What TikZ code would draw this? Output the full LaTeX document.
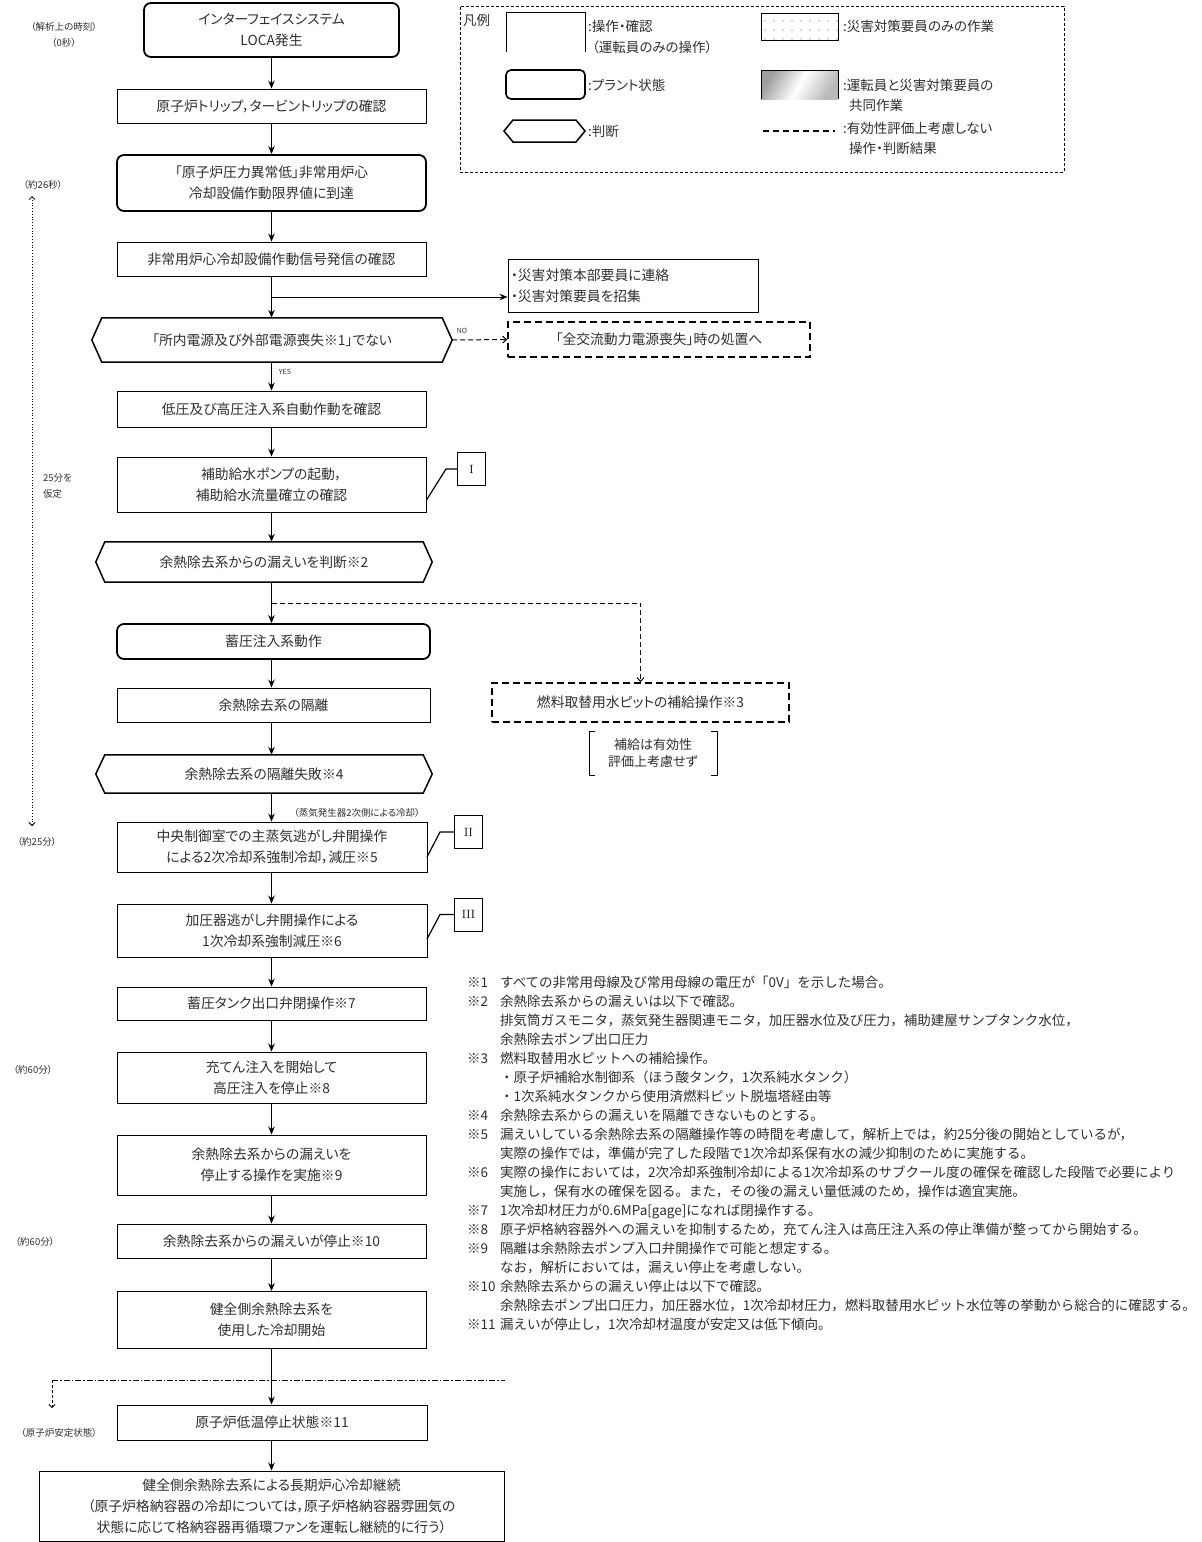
\documentclass[tikz,border=0pt]{standalone}
\usepackage{fontspec}
\setmainfont{Noto Sans CJK JP}[RawFeature={+palt}]
\newfontfamily\jpfull{Noto Sans CJK JP}
\newfontfamily\lmr{Latin Modern Roman}
\usetikzlibrary{arrows.meta,patterns.meta,calc}
\definecolor{ink}{gray}{0.18}
\newcommand{\drawhex}[2]{%
  \draw[line width=1.5pt, line join=miter] ([xshift=#2]#1.north west) -- ([xshift=-#2]#1.north east) -- (#1.east) -- ([xshift=-#2]#1.south east) -- ([xshift=#2]#1.south west) -- (#1.west) -- cycle;}
\tikzset{
  base/.style={inner sep=0pt, align=center, text=ink, font=\fontsize{13.8}{21}\selectfont},
  opbox/.style={base, draw=black, line width=0.9pt},
  statebox/.style={base, draw=black, line width=1.8pt, rounded corners=7pt},
  hexnode/.style={base},
  arr/.style={line width=1pt, -{Stealth[length=8pt,width=6.5pt]}},
  darr/.style={line width=1pt, dash pattern=on 5pt off 3pt, -{Straight Barb[length=4pt,width=7pt]}},
  dbox/.style={base, draw=black, line width=1.4pt, dash pattern=on 7pt off 4pt},
  small/.style={text=ink, font=\fontsize{9.5}{12}\selectfont, inner sep=0pt},
  tiny/.style={text=ink, font=\fontsize{7}{8}\selectfont, inner sep=0pt},
  tag/.style={draw, line width=0.9pt, minimum width=28pt, minimum height=33pt, inner sep=0pt, font=\lmr\fontsize{12}{12}\selectfont},
  callout/.style={line width=1.2pt},
  legtxt/.style={text=ink, font=\fontsize{13.5}{15}\selectfont, inner sep=0pt, anchor=west},
  notes/.style={text=ink, font=\jpfull\fontsize{13.5}{19}\selectfont, inner sep=0pt, align=left, anchor=north west}
}
\begin{document}
\begin{tikzpicture}[x=1pt,y=-1pt]
\useasboundingbox (0,0) rectangle (1202,1542);
\coordinate (colx) at (271.5,0);

% ---------------- legend ----------------
\node[draw, line width=0.6pt, dash pattern=on 3pt off 2pt, minimum width=604pt, minimum height=166pt, inner sep=0pt] (leg) at (762,89) {};
\node[legtxt] (legt) at (463,20) {凡例};
\draw[line width=1pt] (506,52) -- (506,12) -- (585,12) -- (585,52);
\node[legtxt] (l1a) at (588,26) {:操作・確認};
\node[legtxt] (l1b) at (592,47) {（運転員のみの操作）};
\draw[line width=1.6pt, rounded corners=5pt] (506,70) rectangle (585,99);
\node[legtxt] (l2) at (588,85) {:プラント状態};
\draw[line width=1.5pt] (513,120) -- (576,120) -- (585,131) -- (576,142) -- (513,142) -- (504,131) -- cycle;
\node[legtxt] (l3) at (588,131) {:判断};
\draw[line width=0.8pt, pattern={Dots[distance=9pt, radius=0.8pt]}, pattern color=gray!60] (761,13) rectangle (838,40);
\node[legtxt] (l4) at (843,26) {:災害対策要員のみの作業};
\shade[shading=axis, left color=gray!75, right color=gray!55, middle color=white, shading angle=60] (761,70) rectangle (838,99);
\draw[line width=1pt] (761,99) -- (761,70) -- (838,70) -- (838,99);
\node[legtxt] (l5a) at (843,85) {:運転員と災害対策要員の};
\node[legtxt] (l5b) at (849,105) {共同作業};
\draw[line width=1.6pt, dash pattern=on 6pt off 4pt] (763,131) -- (835,131);
\node[legtxt] (l6a) at (843,128) {:有効性評価上考慮しない};
\node[legtxt] (l6b) at (849,148) {操作・判断結果};

% ---------------- main column ----------------
\node[statebox, minimum width=255pt, minimum height=54pt] (top) at (271.5,30) {インターフェイスシステム\\LOCA発生};
\node[opbox, minimum width=309pt, minimum height=34pt] (b2) at (271.5,106) {原子炉トリップ，タービントリップの確認};
\node[statebox, minimum width=309pt, minimum height=56pt] (b3) at (271.5,183) {「原子炉圧力異常低」非常用炉心\\冷却設備作動限界値に到達};
\node[opbox, minimum width=309pt, minimum height=34pt] (b4) at (271.5,259) {非常用炉心冷却設備作動信号発信の確認};
\node[opbox, minimum width=250pt, minimum height=53pt, align=left, text width=244pt] (b5) at (633,285.5) {・災害対策本部要員に連絡\\・災害対策要員を招集};
\node[hexnode, minimum width=360pt, minimum height=44pt] (h1) at (272,340) {「所内電源及び外部電源喪失※1」でない};
\drawhex{h1}{10pt}
\node[dbox, minimum width=302pt, minimum height=35pt] (nb) at (659,339.5) {「全交流動力電源喪失」時の処置へ};
\node[opbox, minimum width=309pt, minimum height=36pt] (b7) at (271.5,409) {低圧及び高圧注入系自動作動を確認};
\node[opbox, minimum width=309pt, minimum height=55pt] (b8) at (271.5,484.5) {補助給水ポンプの起動，\\補助給水流量確立の確認};
\node[tag] (L1) at (471.5,469) {I};
\node[hexnode, minimum width=336pt, minimum height=40pt] (h2) at (264,562) {余熱除去系からの漏えいを判断※2};
\drawhex{h2}{9pt}
\node[statebox, minimum width=313pt, minimum height=35pt] (b11) at (273.5,641.5) {蓄圧注入系動作};
\node[opbox, minimum width=313pt, minimum height=34pt] (b12) at (273.5,705) {余熱除去系の隔離};
\node[dbox, minimum width=297pt, minimum height=39pt] (db) at (640.5,702.5) {燃料取替用水ピットの補給操作※3};
\node[base, font=\fontsize{13}{17}\selectfont] (brk) at (653,753) {補給は有効性\\評価上考慮せず};
\draw[line width=0.9pt] ([xshift=-58pt,yshift=22pt]brk.center) -- ++(-6,0) -- ++(0,44) -- ++(6,0);
\draw[line width=0.9pt] ([xshift=58pt,yshift=22pt]brk.center) -- ++(6,0) -- ++(0,44) -- ++(-6,0);
\node[hexnode, minimum width=336pt, minimum height=38pt] (h3) at (264,774) {余熱除去系の隔離失敗※4};
\drawhex{h3}{9pt}
\node[small] (sg) at (357,813) {（蒸気発生器2次側による冷却）};
\node[opbox, minimum width=310pt, minimum height=50pt] (b15) at (272,847) {中央制御室での主蒸気逃がし弁開操作\\による2次冷却系強制冷却，減圧※5};
\node[tag] (L2) at (468.5,832) {II};
\node[opbox, minimum width=310pt, minimum height=53pt] (b16) at (272,930.5) {加圧器逃がし弁開操作による\\1次冷却系強制減圧※6};
\node[tag] (L3) at (468.5,914.5) {III};
\node[opbox, minimum width=309pt, minimum height=33pt] (b17) at (271.5,1003.5) {蓄圧タンク出口弁閉操作※7};
\node[opbox, minimum width=309pt, minimum height=51pt] (b18) at (271.5,1077.5) {充てん注入を開始して\\高圧注入を停止※8};
\node[opbox, minimum width=309pt, minimum height=60pt] (b19) at (271.5,1165) {余熱除去系からの漏えいを\\停止する操作を実施※9};
\node[opbox, minimum width=309pt, minimum height=34pt] (b20) at (271.5,1241) {余熱除去系からの漏えいが停止※10};
\node[opbox, minimum width=309pt, minimum height=57pt] (b21) at (271.5,1320) {健全側余熱除去系を\\使用した冷却開始};
\node[opbox, minimum width=310pt, minimum height=35pt] (b23) at (272,1422.5) {原子炉低温停止状態※11};
\node[opbox, minimum width=465pt, minimum height=70pt] (b24) at (271.5,1506) {健全側余熱除去系による長期炉心冷却継続\\（原子炉格納容器の冷却については，原子炉格納容器雰囲気の\\状態に応じて格納容器再循環ファンを運転し継続的に行う）};

% ---------------- connectors ----------------
\draw[arr] (top.south -| colx) -- (b2.north -| colx);
\draw[arr] (b2.south -| colx) -- (b3.north -| colx);
\draw[arr] (b3.south -| colx) -- (b4.north -| colx);
\coordinate (br1) at (271.5,297);
\draw[arr] (b4.south -| colx) -- (h1.north -| colx);
\draw[arr] (br1) -- (br1 -| b5.west);
\draw[darr] (h1.east) -- (nb.west);
\node[tiny] (no) at (462,331) {NO};
\draw[arr] (h1.south -| colx) -- (b7.north -| colx);
\node[tiny] (yes) at (285,372) {YES};
\draw[arr] (b7.south -| colx) -- (b8.north -| colx);
\draw[arr] (b8.south -| colx) -- (h2.north -| colx);
\draw[arr] (h2.south -| colx) -- (b11.north -| colx);
\coordinate (br2) at (271.5,603);
\coordinate (br2c) at (640.5,603);
\draw[darr] (br2) -- (br2c) -- (db.north);
\draw[arr] (b11.south -| colx) -- (b12.north -| colx);
\draw[arr] (b12.south -| colx) -- (h3.north -| colx);
\draw[arr] (h3.south -| colx) -- (b15.north -| colx);
\draw[arr] (b15.south -| colx) -- (b16.north -| colx);
\draw[arr] (b16.south -| colx) -- (b17.north -| colx);
\draw[arr] (b17.south -| colx) -- (b18.north -| colx);
\draw[arr] (b18.south -| colx) -- (b19.north -| colx);
\draw[arr] (b19.south -| colx) -- (b20.north -| colx);
\draw[arr] (b20.south -| colx) -- (b21.north -| colx);
\draw[arr] (b21.south -| colx) -- (b23.north -| colx);
\draw[arr] (b23.south -| colx) -- (b24.north -| colx);

% callouts
\coordinate (c1) at (426.5,500);
\draw[callout] (c1) -- (446,469) -- (L1.west);
\coordinate (c2) at (427,857);
\draw[callout] (c2) -- (440,832) -- (L2.west);
\coordinate (c3) at (427,939);
\draw[callout] (c3) -- (440,914.5) -- (L3.west);

% ---------------- timeline ----------------
\node[small] (t0a) at (64,27) {（解析上の時刻）};
\node[small] (t0b) at (64,43) {（0秒）};
\node[small] (t26) at (43,185) {（約26秒）};
\coordinate (ta) at (32,196);
\coordinate (tb) at (32,826);
\draw[line width=0.8pt, dotted, {Straight Barb[length=3pt,width=6pt]}-{Straight Barb[length=3pt,width=6pt]}] (ta) -- (tb);
\node[small, anchor=west] (t25a) at (43,478) {25分を};
\node[small, anchor=west] (t25b) at (43,494) {仮定};
\node[small] (t25) at (37,842) {（約25分）};
\node[small] (t60a) at (33,1070) {（約60分）};
\node[small] (t60b) at (35,1242) {（約60分）};
\node[small] (tst) at (59,1433) {（原子炉安定状態）};
\coordinate (dd1) at (52,1380);
\coordinate (dd2) at (505,1380);
\coordinate (dd3) at (52,1408);
\draw[line width=0.8pt, dash pattern=on 6pt off 2pt on 1.5pt off 2pt] (dd1) -- (dd2);
\draw[line width=0.8pt, dash pattern=on 3pt off 2pt, -{Straight Barb[length=3pt,width=6pt]}] (dd1) -- (dd3);

% ---------------- notes ----------------
\node[notes] (nt) at (467,976) {%
\makebox[33pt][l]{※1}すべての非常用母線及び常用母線の電圧が「0V」を示した場合。\\
\makebox[33pt][l]{※2}余熱除去系からの漏えいは以下で確認。\\
\hspace*{33pt}排気筒ガスモニタ，蒸気発生器関連モニタ，加圧器水位及び圧力，補助建屋サンプタンク水位，\\
\hspace*{33pt}余熱除去ポンプ出口圧力\\
\makebox[33pt][l]{※3}燃料取替用水ピットへの補給操作。\\
\hspace*{33pt}・原子炉補給水制御系（ほう酸タンク，1次系純水タンク）\\
\hspace*{33pt}・1次系純水タンクから使用済燃料ピット脱塩塔経由等\\
\makebox[33pt][l]{※4}余熱除去系からの漏えいを隔離できないものとする。\\
\makebox[33pt][l]{※5}漏えいしている余熱除去系の隔離操作等の時間を考慮して，解析上では，約25分後の開始としているが，\\
\hspace*{33pt}実際の操作では，準備が完了した段階で1次冷却系保有水の減少抑制のために実施する。\\
\makebox[33pt][l]{※6}実際の操作においては，2次冷却系強制冷却による1次冷却系のサブクール度の確保を確認した段階で必要により\\
\hspace*{33pt}実施し，保有水の確保を図る。また，その後の漏えい量低減のため，操作は適宜実施。\\
\makebox[33pt][l]{※7}1次冷却材圧力が0.6MPa[gage]になれば閉操作する。\\
\makebox[33pt][l]{※8}原子炉格納容器外への漏えいを抑制するため，充てん注入は高圧注入系の停止準備が整ってから開始する。\\
\makebox[33pt][l]{※9}隔離は余熱除去ポンプ入口弁開操作で可能と想定する。\\
\hspace*{33pt}なお，解析においては，漏えい停止を考慮しない。\\
\makebox[33pt][l]{※10}余熱除去系からの漏えい停止は以下で確認。\\
\hspace*{33pt}余熱除去ポンプ出口圧力，加圧器水位，1次冷却材圧力，燃料取替用水ピット水位等の挙動から総合的に確認する。\\
\makebox[33pt][l]{※11}漏えいが停止し，1次冷却材温度が安定又は低下傾向。};
\end{tikzpicture}
\end{document}
